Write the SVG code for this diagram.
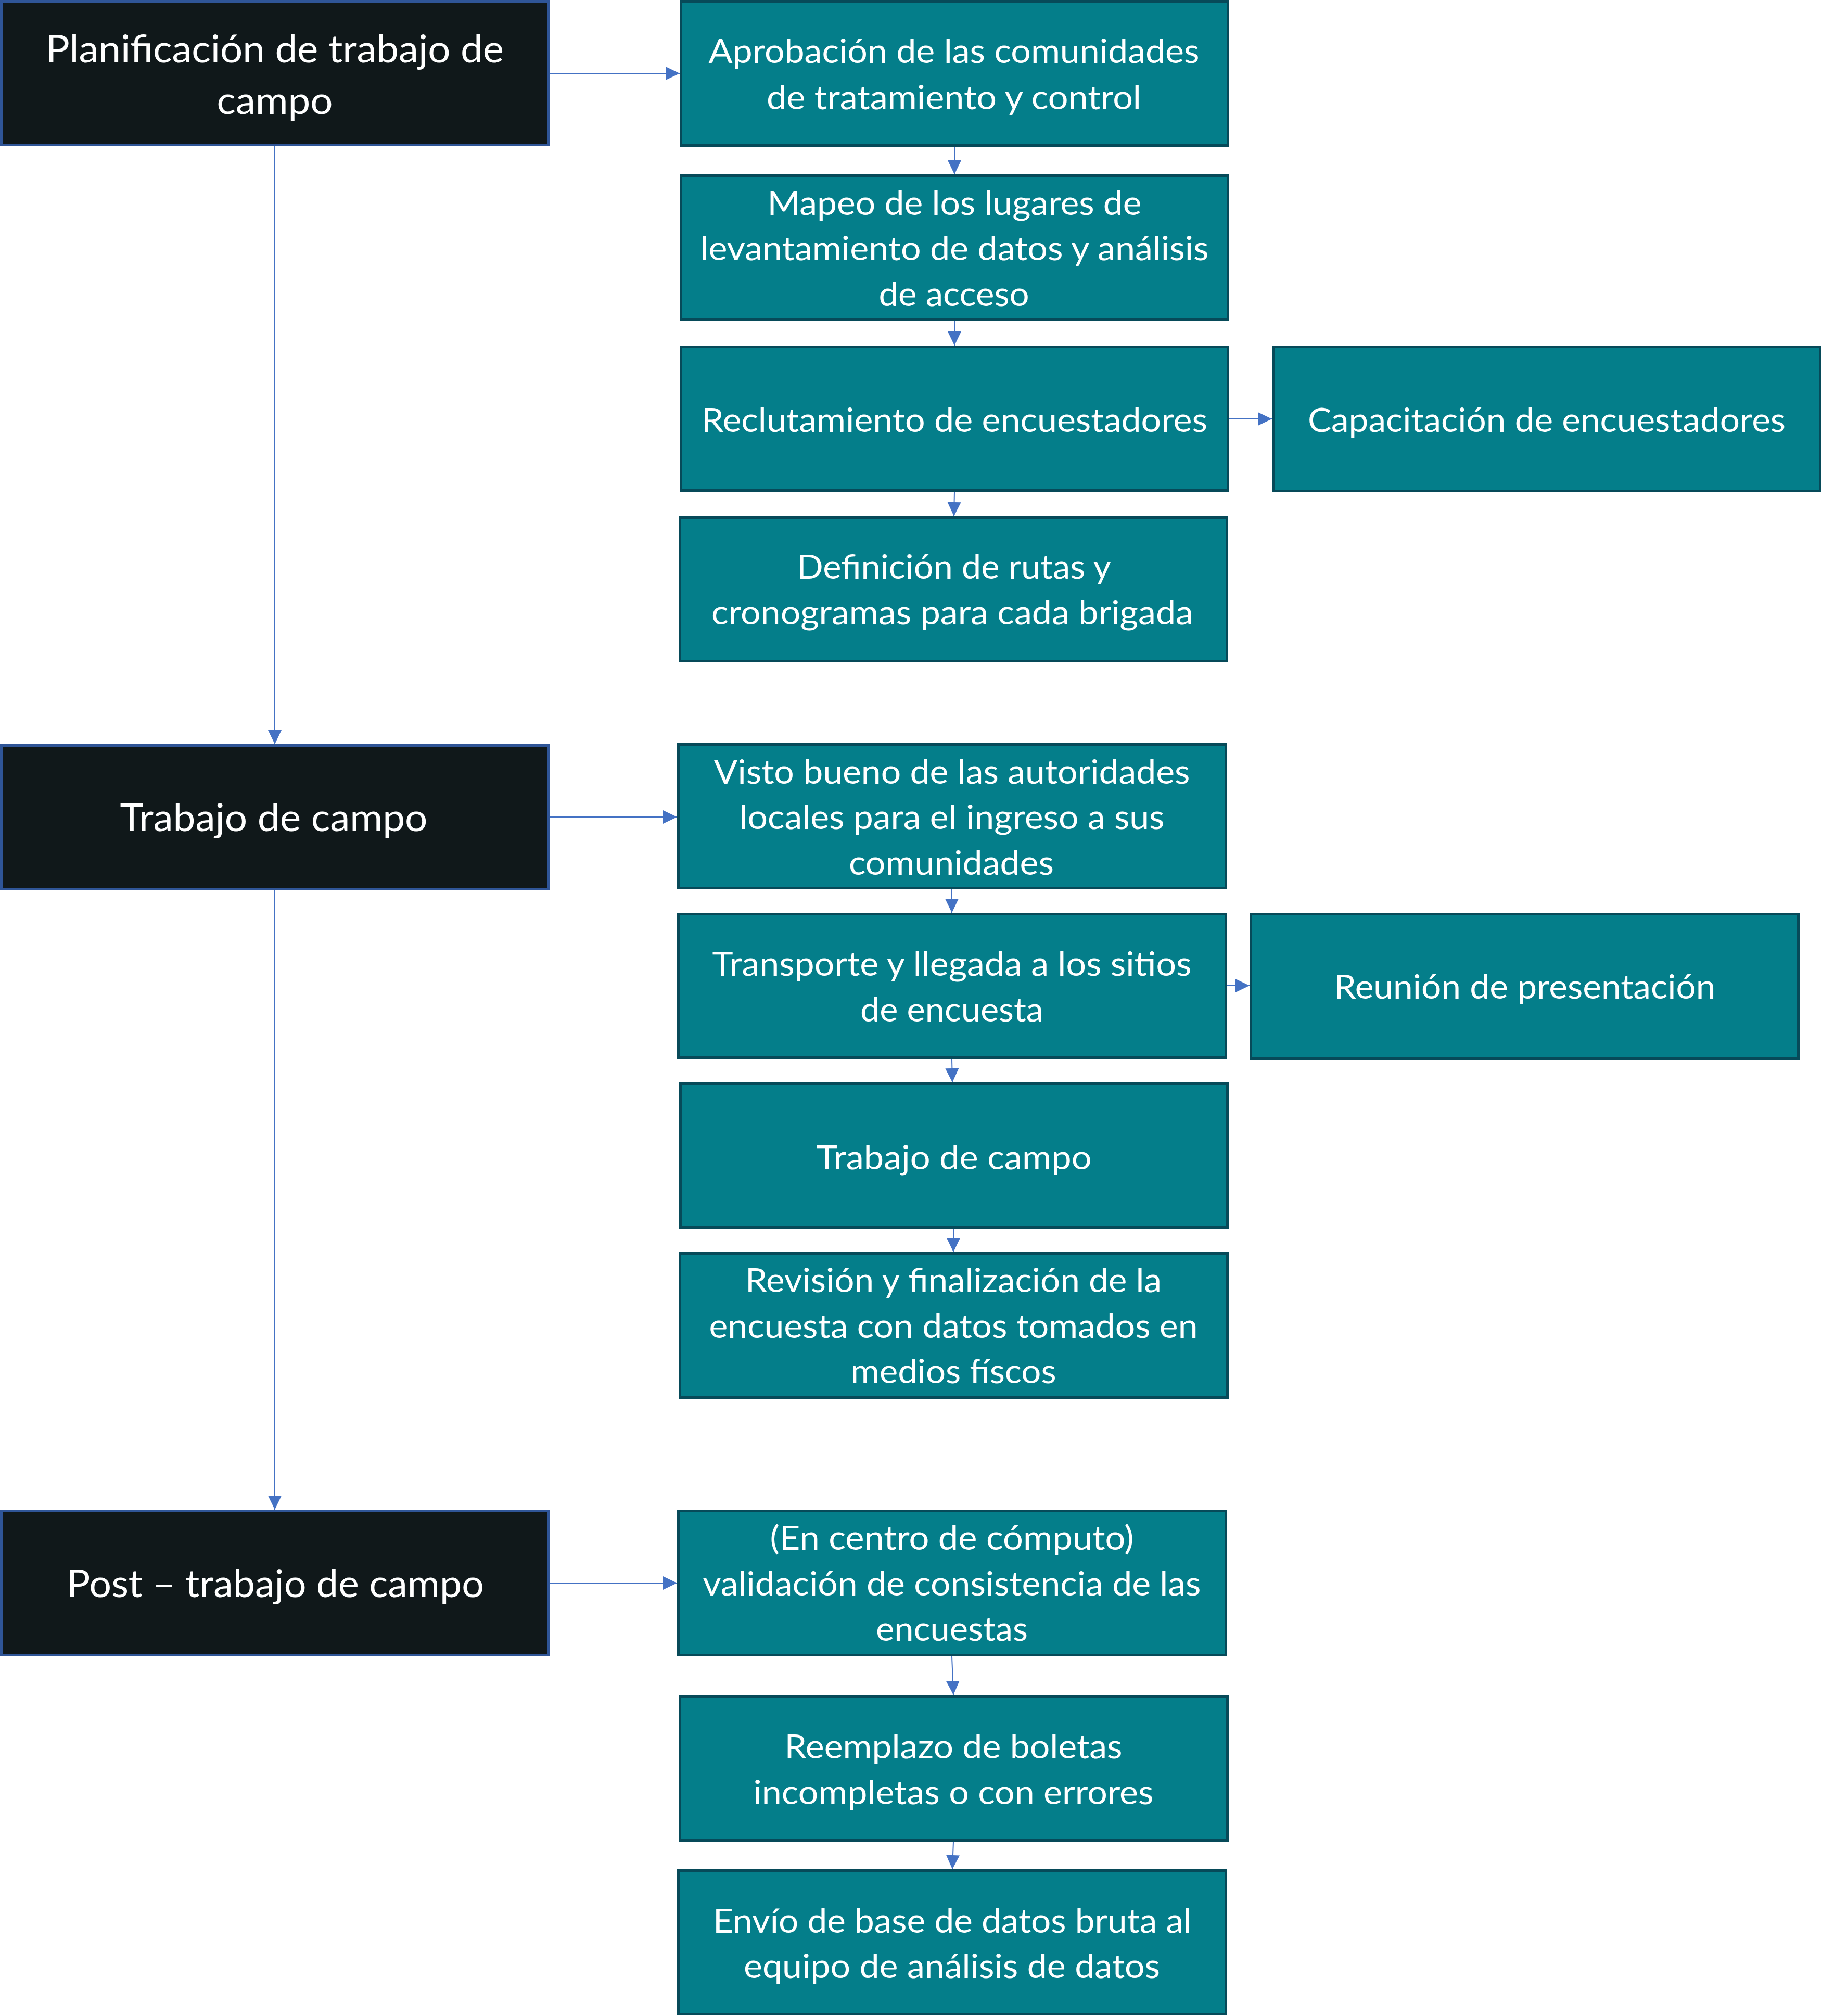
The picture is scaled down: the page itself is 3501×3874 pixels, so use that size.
<svg xmlns="http://www.w3.org/2000/svg" width="3501" height="3874" viewBox="0 0 3501 3874">
<style>
.phase{fill:#10181A;stroke:#2F5597;stroke-width:5}
.step{fill:#047E8A;stroke:#074A59;stroke-width:5}
.tp{font-family:Lato,"Open Sans","Liberation Sans",sans-serif;font-size:73px;fill:#FFFFFF;text-anchor:middle}
.ts{font-family:Lato,"Open Sans","Liberation Sans",sans-serif;font-size:64px;fill:#FFFFFF;text-anchor:middle}
.conn line{stroke:#4472C4;stroke-width:2;fill:none;marker-end:url(#arr)}
</style>
<defs>
<marker id="arr" markerUnits="userSpaceOnUse" markerWidth="28" markerHeight="27" refX="27" refY="13" orient="auto">
<path d="M0,0 L27,13 L0,26 Z" fill="#4472C4"/>
</marker>
</defs>
<rect width="3501" height="3874" fill="#FFFFFF"/>
<g id="connectors" class="conn">
<line x1="1056" y1="141" x2="1306" y2="141"/>
<line x1="528" y1="281" x2="528" y2="1430"/>
<line x1="1056" y1="1570" x2="1301" y2="1570"/>
<line x1="528" y1="1711" x2="528" y2="2901"/>
<line x1="1056" y1="3042" x2="1301" y2="3042"/>
<line x1="1834" y1="282" x2="1834" y2="335"/>
<line x1="1834" y1="616" x2="1834" y2="664"/>
<line x1="1834" y1="945" x2="1833" y2="992"/>
<line x1="2362" y1="805" x2="2444" y2="805"/>
<line x1="1829" y1="1709" x2="1829" y2="1754"/>
<line x1="2358" y1="1894" x2="2401" y2="1894"/>
<line x1="1829" y1="2035" x2="1830" y2="2080"/>
<line x1="1832" y1="2361" x2="1832" y2="2406"/>
<line x1="1829" y1="3183" x2="1832" y2="3257"/>
<line x1="1832" y1="3539" x2="1830" y2="3592"/>
</g>
<g id="n-planificacion">
<rect class="phase" x="2.5" y="2.5" width="1051" height="276"/>
<text class="tp" x="528" y="120" textLength="880" lengthAdjust="spacingAndGlyphs">Planificación de trabajo de</text>
<text class="tp" x="528" y="219" textLength="223" lengthAdjust="spacingAndGlyphs">campo</text>
</g>
<g id="n-trabajo">
<rect class="phase" x="2.5" y="1432.5" width="1051" height="276"/>
<text class="tp" x="526" y="1597" textLength="591" lengthAdjust="spacingAndGlyphs">Trabajo de campo</text>
</g>
<g id="n-post">
<rect class="phase" x="2.5" y="2903.5" width="1051" height="277"/>
<text class="tp" x="529" y="3069" textLength="802" lengthAdjust="spacingAndGlyphs">Post – trabajo de campo</text>
</g>
<g id="n-aprobacion">
<rect class="step" x="1308.5" y="2.5" width="1051" height="277"/>
<text class="ts" x="1833" y="121" textLength="943" lengthAdjust="spacingAndGlyphs">Aprobación de las comunidades</text>
<text class="ts" x="1833" y="210" textLength="720" lengthAdjust="spacingAndGlyphs">de tratamiento y control</text>
</g>
<g id="n-mapeo">
<rect class="step" x="1308.5" y="337.5" width="1051" height="276"/>
<text class="ts" x="1834" y="413" textLength="719" lengthAdjust="spacingAndGlyphs">Mapeo de los lugares de</text>
<text class="ts" x="1834" y="500" textLength="977" lengthAdjust="spacingAndGlyphs">levantamiento de datos y análisis</text>
<text class="ts" x="1833" y="588" textLength="289" lengthAdjust="spacingAndGlyphs">de acceso</text>
</g>
<g id="n-reclutamiento">
<rect class="step" x="1308.5" y="666.5" width="1051" height="276"/>
<text class="ts" x="1834" y="830" textLength="972" lengthAdjust="spacingAndGlyphs">Reclutamiento de encuestadores</text>
</g>
<g id="n-capacitacion">
<rect class="step" x="2446.5" y="666.5" width="1051" height="277"/>
<text class="ts" x="2972" y="830" textLength="918" lengthAdjust="spacingAndGlyphs">Capacitación de encuestadores</text>
</g>
<g id="n-definicion">
<rect class="step" x="1306.5" y="994.5" width="1051" height="276"/>
<text class="ts" x="1833" y="1112" textLength="604" lengthAdjust="spacingAndGlyphs">Definición de rutas y</text>
<text class="ts" x="1830" y="1200" textLength="926" lengthAdjust="spacingAndGlyphs">cronogramas para cada brigada</text>
</g>
<g id="n-visto">
<rect class="step" x="1303.5" y="1430.5" width="1052" height="276"/>
<text class="ts" x="1829" y="1506" textLength="915" lengthAdjust="spacingAndGlyphs">Visto bueno de las autoridades</text>
<text class="ts" x="1829" y="1593" textLength="817" lengthAdjust="spacingAndGlyphs">locales para el ingreso a sus</text>
<text class="ts" x="1828" y="1681" textLength="394" lengthAdjust="spacingAndGlyphs">comunidades</text>
</g>
<g id="n-transporte">
<rect class="step" x="1303.5" y="1756.5" width="1052" height="276"/>
<text class="ts" x="1829" y="1875" textLength="921" lengthAdjust="spacingAndGlyphs">Transporte y llegada a los sitios</text>
<text class="ts" x="1829" y="1963" textLength="352" lengthAdjust="spacingAndGlyphs">de encuesta</text>
</g>
<g id="n-reunion">
<rect class="step" x="2403.5" y="1756.5" width="1052" height="277"/>
<text class="ts" x="2930" y="1919" textLength="733" lengthAdjust="spacingAndGlyphs">Reunión de presentación</text>
</g>
<g id="n-trabajo-campo">
<rect class="step" x="1307.5" y="2082.5" width="1051" height="276"/>
<text class="ts" x="1833" y="2247" textLength="529" lengthAdjust="spacingAndGlyphs">Trabajo de campo</text>
</g>
<g id="n-revision">
<rect class="step" x="1306.5" y="2408.5" width="1052" height="277"/>
<text class="ts" x="1832" y="2483" textLength="800" lengthAdjust="spacingAndGlyphs">Revisión y finalización de la</text>
<text class="ts" x="1832" y="2571" textLength="939" lengthAdjust="spacingAndGlyphs">encuesta con datos tomados en</text>
<text class="ts" x="1832" y="2658" textLength="395" lengthAdjust="spacingAndGlyphs">medios físcos</text>
</g>
<g id="n-validacion">
<rect class="step" x="1303.5" y="2903.5" width="1052" height="277"/>
<text class="ts" x="1829" y="2978" textLength="699" lengthAdjust="spacingAndGlyphs">(En centro de cómputo)</text>
<text class="ts" x="1829" y="3066" textLength="957" lengthAdjust="spacingAndGlyphs">validación de consistencia de las</text>
<text class="ts" x="1829" y="3153" textLength="292" lengthAdjust="spacingAndGlyphs">encuestas</text>
</g>
<g id="n-reemplazo">
<rect class="step" x="1306.5" y="3259.5" width="1052" height="277"/>
<text class="ts" x="1832" y="3379" textLength="649" lengthAdjust="spacingAndGlyphs">Reemplazo de boletas</text>
<text class="ts" x="1832" y="3467" textLength="769" lengthAdjust="spacingAndGlyphs">incompletas o con errores</text>
</g>
<g id="n-envio">
<rect class="step" x="1303.5" y="3594.5" width="1052" height="276"/>
<text class="ts" x="1830" y="3714" textLength="920" lengthAdjust="spacingAndGlyphs">Envío de base de datos bruta al</text>
<text class="ts" x="1829" y="3801" textLength="800" lengthAdjust="spacingAndGlyphs">equipo de análisis de datos</text>
</g>
</svg>
